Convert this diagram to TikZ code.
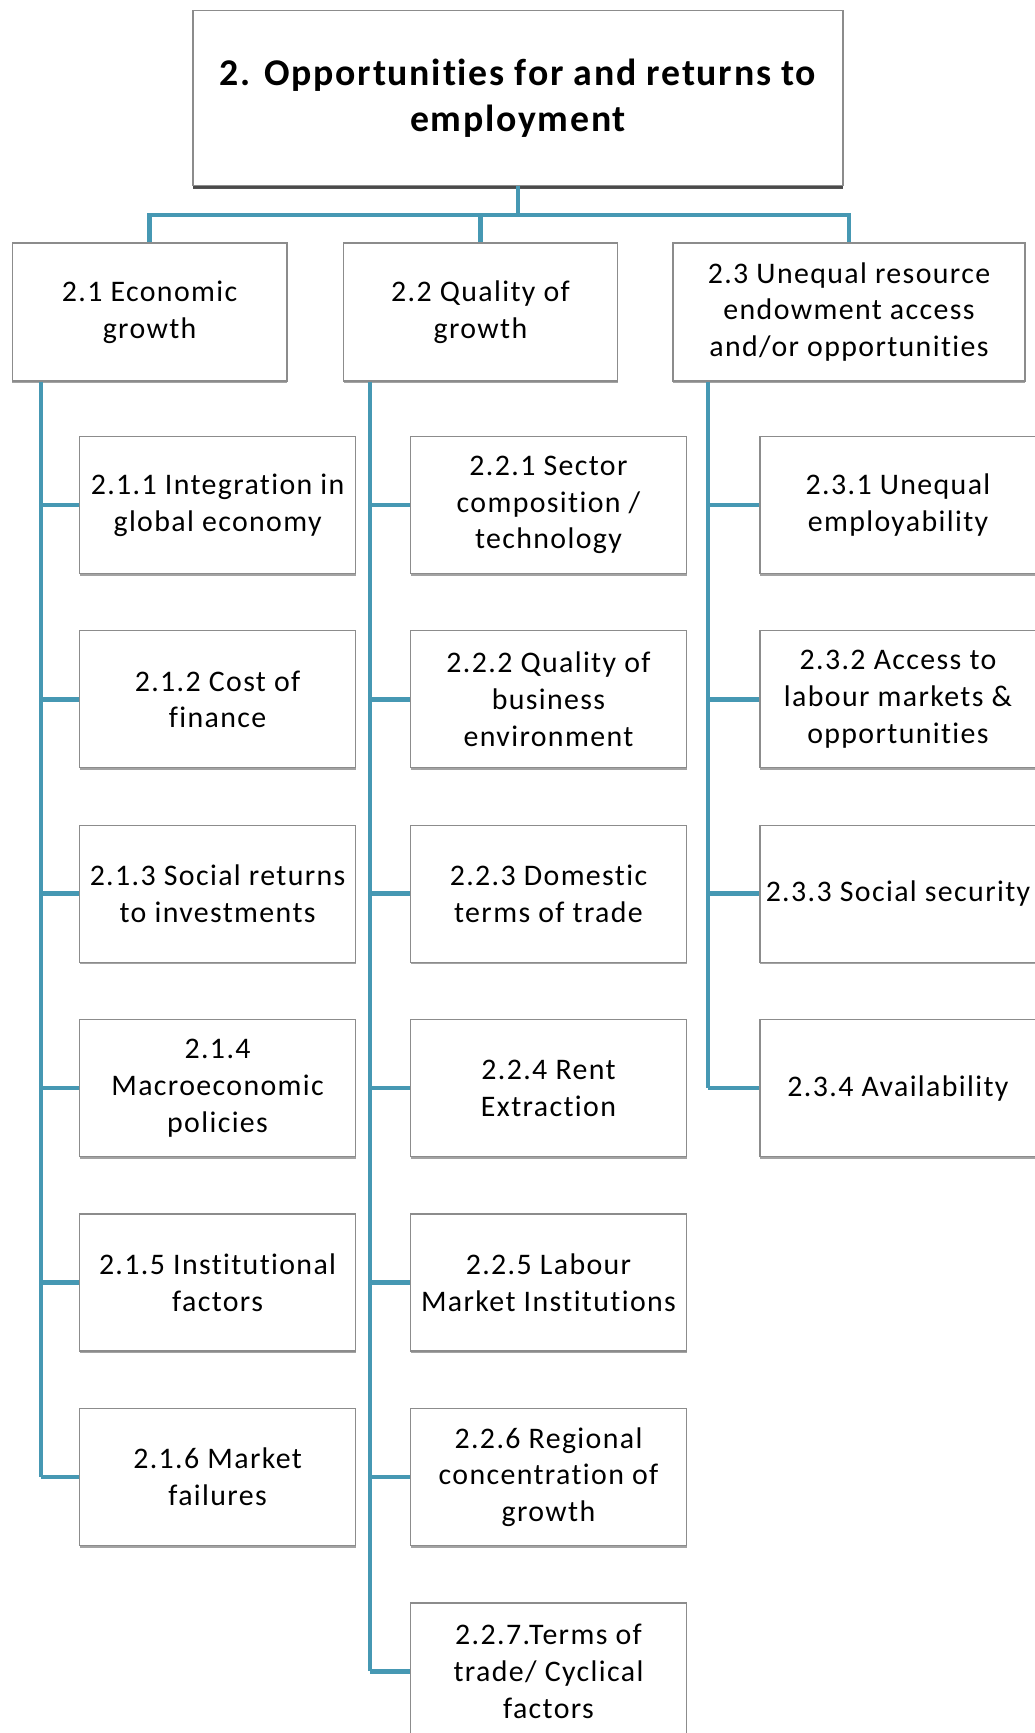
\documentclass[tikz,border=0pt]{standalone}
\usepackage{fontspec}
\setmainfont[LetterSpace=4.6, Ligatures=CommonOff]{Carlito}
\usetikzlibrary{shadows}

\definecolor{linkblue}{RGB}{70,152,179}
\definecolor{boxgray}{RGB}{140,140,140}

\tikzset{
  box/.style={draw=boxgray, fill=white, line width=0.7pt, align=center, inner sep=1pt,
    font=\fontsize{17}{20.9}\selectfont,
    drop shadow={shadow xshift=0.2pt, shadow yshift=-1.2pt, opacity=0.8, fill=gray!90}},
  headbox/.style={box, minimum width=13cm, minimum height=3.5cm,
    font=\bfseries\fontsize{21.5}{26.2}\selectfont,
    drop shadow={shadow xshift=0pt, shadow yshift=-2.2pt, opacity=0.9, fill=black!75}},
  groupbox/.style={box, minimum width=5.5cm, minimum height=2.76cm},
  itembox/.style={box, minimum width=5.52cm, minimum height=2.74cm},
  link/.style={draw=linkblue, line width=2.7pt}
}

\begin{document}
\begin{tikzpicture}[x=0.02cm, y=-0.02cm]
    \useasboundingbox (0,0) rectangle (1034,1733);

    % the main box and the three groups
    \node[headbox] (top) at (518,98) {2. Opportunities for and returns to\\employment};
    \node[groupbox] (g1) at (149.6,312) {2.1 Economic\\growth};
    \node[groupbox, minimum width=5.48cm] (g2) at (480.5,312) {2.2 Quality of\\growth};
    \node[groupbox, minimum width=7.04cm] (g3) at (849,312) {2.3 Unequal resource\\endowment access\\and/or opportunities};

    % items of 2.1
    \node[itembox] (e1) at (217.6,505) {2.1.1 Integration in\\global economy};
    \node[itembox] (e2) at (217.6,699.3) {2.1.2 Cost of\\finance};
    \node[itembox] (e3) at (217.6,893.7) {2.1.3 Social returns\\to investments};
    \node[itembox] (e4) at (217.6,1088.1) {2.1.4\\Macroeconomic\\policies};
    \node[itembox] (e5) at (217.6,1282.5) {2.1.5 Institutional\\factors};
    \node[itembox] (e6) at (217.6,1477) {2.1.6 Market\\failures};

    % items of 2.2
    \node[itembox] (q1) at (548.5,505) {2.2.1 Sector\\composition /\\technology};
    \node[itembox] (q2) at (548.5,699.3) {2.2.2 Quality of\\business\\environment};
    \node[itembox] (q3) at (548.5,893.7) {2.2.3 Domestic\\terms of trade};
    \node[itembox] (q4) at (548.5,1088.1) {2.2.4 Rent\\Extraction};
    \node[itembox] (q5) at (548.5,1282.5) {2.2.5 Labour\\Market Institutions};
    \node[itembox] (q6) at (548.5,1477) {2.2.6 Regional\\concentration of\\growth};
    \node[itembox] (q7) at (548.5,1671.4) {2.2.7.Terms of\\trade/ Cyclical\\factors};

    % items of 2.3
    \node[itembox] (u1) at (898,505) {2.3.1 Unequal\\employability};
    \node[itembox] (u2) at (898,699.3) {2.3.2 Access to\\labour markets \&\\opportunities};
    \node[itembox] (u3) at (898,893.7) {2.3.3 Social security};
    \node[itembox] (u4) at (898,1088.1) {2.3.4 Availability};

    % the fork under the main box
    \coordinate (bar) at (518,215);
    \draw[link] (top.south) -- (top.south |- bar);
    \draw[link] (top.south |- bar) -| (g1.north);
    \draw[link] (top.south |- bar) -| (g2.north);
    \draw[link] (top.south |- bar) -| (g3.north);

    % the spines going down from each group
    \coordinate (s1) at (41,0);
    \coordinate (s2) at (370,0);
    \coordinate (s3) at (708,0);
    \draw[link] (s1 |- g1.south) -- (s1 |- e6.west);
    \draw[link] (s2 |- g2.south) -- (s2 |- q7.west);
    \draw[link] (s3 |- g3.south) -- (s3 |- u4.west);

    % the stubs to the items
    \draw[link] (s1 |- e1.west) -- (e1.west);
    \draw[link] (s1 |- e2.west) -- (e2.west);
    \draw[link] (s1 |- e3.west) -- (e3.west);
    \draw[link] (s1 |- e4.west) -- (e4.west);
    \draw[link] (s1 |- e5.west) -- (e5.west);
    \draw[link] (s1 |- e6.west) -- (e6.west);
    %
    \draw[link] (s2 |- q1.west) -- (q1.west);
    \draw[link] (s2 |- q2.west) -- (q2.west);
    \draw[link] (s2 |- q3.west) -- (q3.west);
    \draw[link] (s2 |- q4.west) -- (q4.west);
    \draw[link] (s2 |- q5.west) -- (q5.west);
    \draw[link] (s2 |- q6.west) -- (q6.west);
    \draw[link] (s2 |- q7.west) -- (q7.west);
    %
    \draw[link] (s3 |- u1.west) -- (u1.west);
    \draw[link] (s3 |- u2.west) -- (u2.west);
    \draw[link] (s3 |- u3.west) -- (u3.west);
    \draw[link] (s3 |- u4.west) -- (u4.west);
\end{tikzpicture}
\end{document}
